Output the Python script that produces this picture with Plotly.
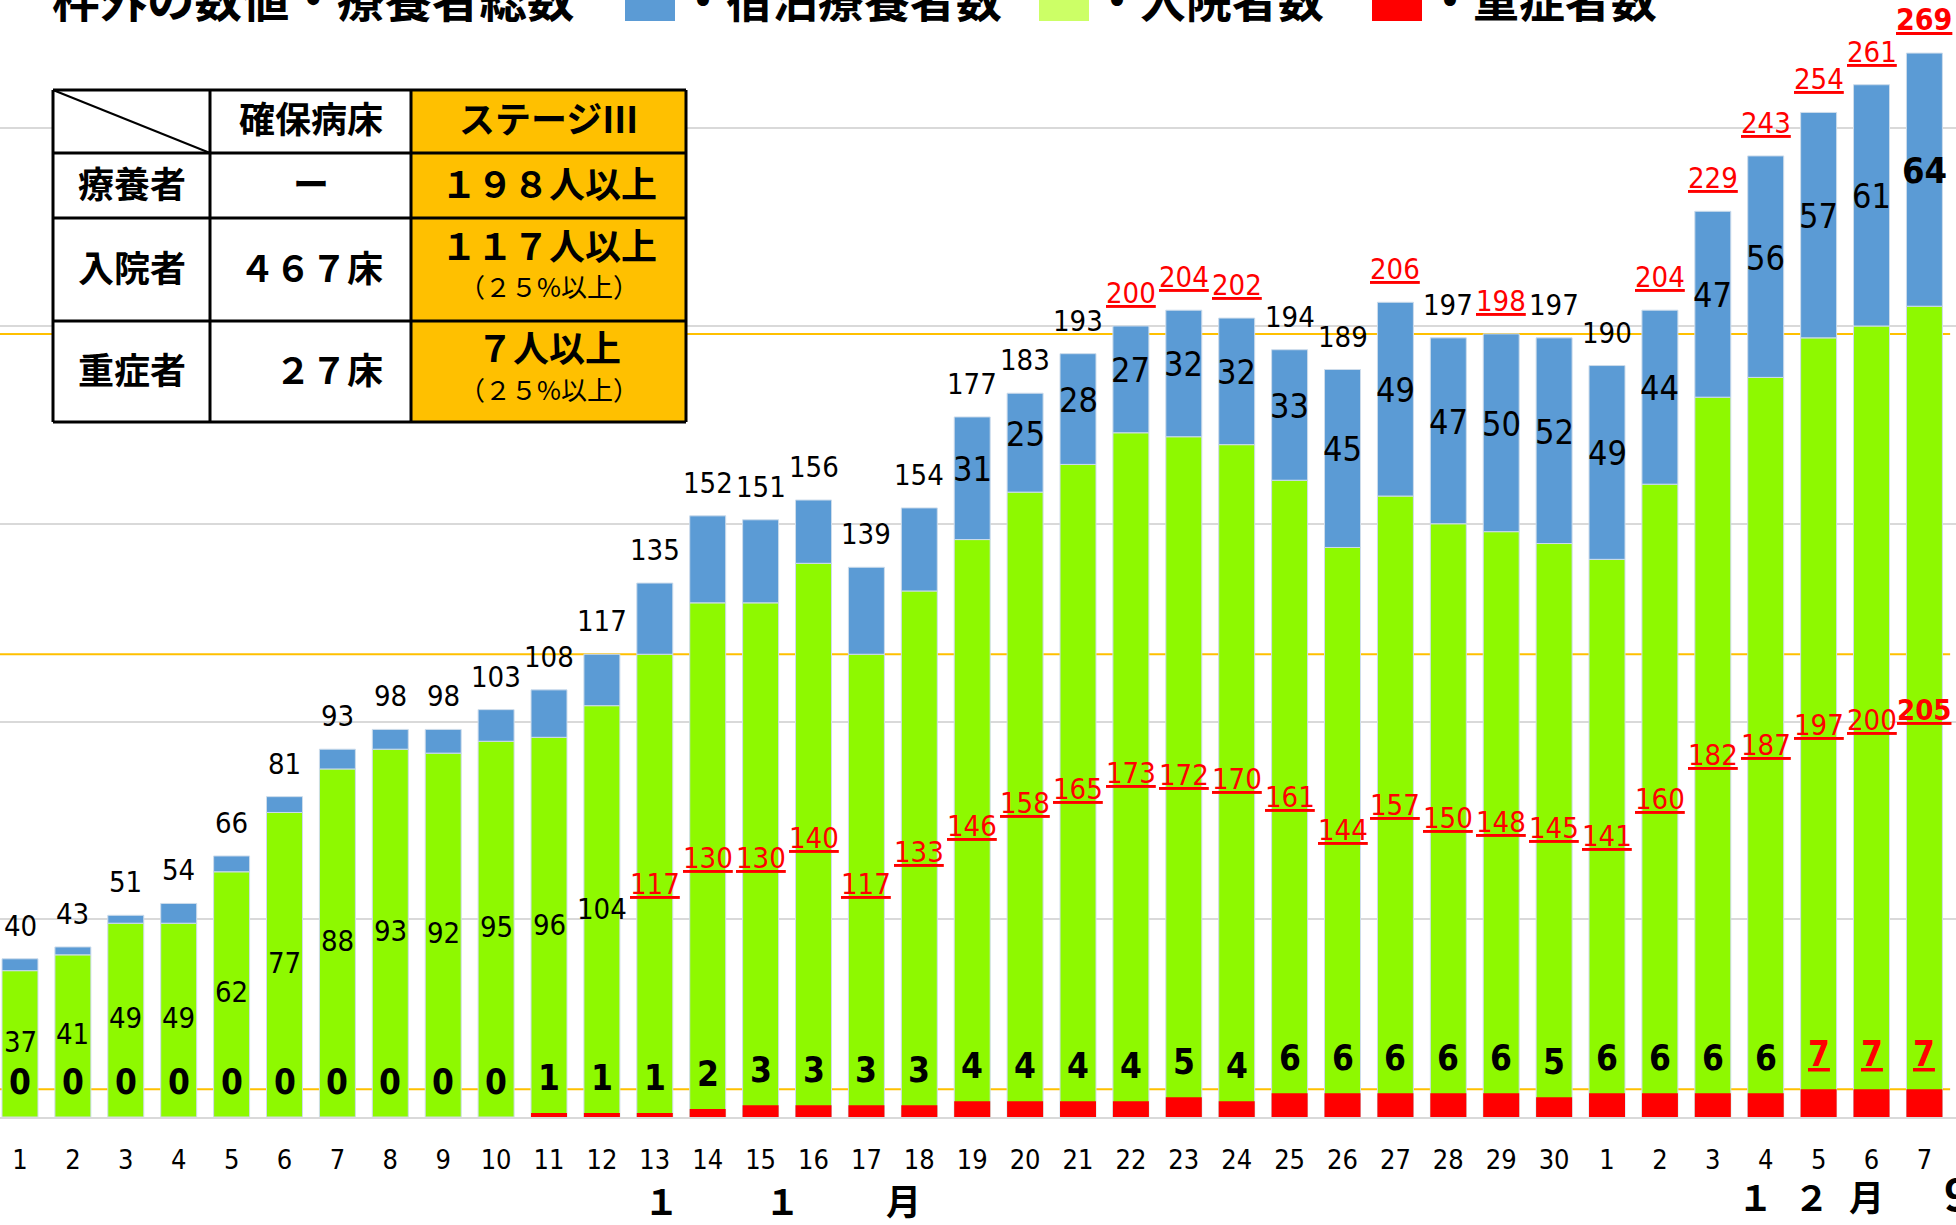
import plotly.graph_objects as go

# ---------------- data ----------------
days = [str(d) for d in range(1, 31)] + [str(d) for d in range(1, 8)]
total = [40, 43, 51, 54, 66, 81, 93, 98, 98, 103, 108, 117, 135, 152, 151, 156, 139, 154,
         177, 183, 193, 200, 204, 202, 194, 189, 206, 197, 198, 197, 190, 204, 229, 243, 254, 261, 269]
hospital = [37, 41, 49, 49, 62, 77, 88, 93, 92, 95, 96, 104, 117, 130, 130, 140, 117, 133,
            146, 158, 165, 173, 172, 170, 161, 144, 157, 150, 148, 145, 141, 160, 182, 187, 197, 200, 205]
hotel = [3, 2, 2, 5, 4, 4, 5, 5, 6, 8, 12, 13, 18, 22, 21, 16, 22, 21,
         31, 25, 28, 27, 32, 32, 33, 45, 49, 47, 50, 52, 49, 44, 47, 56, 57, 61, 64]
severe = [0, 0, 0, 0, 0, 0, 0, 0, 0, 0, 1, 1, 1, 2, 3, 3, 3, 3,
          4, 4, 4, 4, 5, 4, 6, 6, 6, 6, 6, 5, 6, 6, 6, 6, 7, 7, 7]
hotel_label_start = 18          # hotel counts labelled from Nov 19
stage3_total = 198
stage3_hospital = 117
stage3_severe = 7
thresholds = [stage3_total, stage3_hospital, stage3_severe]

legend_title = "枠外の数値・療養者総数"
legend_items = ["・宿泊療養者数", "・入院者数", "・重症者数"]
table_cols = ["確保病床", "ステージⅢ"]
table_rows = ["療養者", "入院者", "重症者"]
table_beds = ["ー", "４６７床", "２７床"]
table_stage = ["１９８人以上", "１１７人以上", "７人以上"]
table_stage_sub = ["", "（２５%以上）", "（２５%以上）"]
month_nov = ["１", "１", "月"]
month_dec = ["１", "２", "月"]
cut_char = "9"

# ---------------- style ----------------
W, H = 1956, 1225
BASE_PX = 1117  # plot bottom in px
BLUE = "#5B9BD5"
GREEN = "#8EF900"
RED = "#FF0000"
GOLD = "#FFC000"
GRID = "#D9D9D9"
NUM_FONT = "Liberation Sans Narrow, DejaVu Sans Condensed, Arial Narrow, Liberation Sans, sans-serif"
JP_FONT = "Noto Sans CJK JP, sans-serif"

n = len(days)
xs = list(range(n))
XMIN, XMAX = -0.378, 36.597
YMAX = BASE_PX / 3.955


def px(x):
    return x / W


def py(y):
    return (BASE_PX - y) / BASE_PX


fig = go.Figure()
line_style = dict(color="rgba(205,220,235,1)", width=1)
fig.add_trace(go.Bar(x=xs, y=hospital, marker=dict(color=GREEN, line=line_style), width=0.68,
                     name="入院者数", showlegend=False))
fig.add_trace(go.Bar(x=xs, y=hotel, base=hospital, marker=dict(color=BLUE, line=line_style), width=0.68,
                     name="宿泊療養者数", showlegend=False))
fig.add_trace(go.Bar(x=xs, y=severe, marker=dict(color=RED, line=dict(width=0)), width=0.68,
                     name="重症者数", showlegend=False))

ann = []
shapes = []

# threshold lines
for t in thresholds:
    shapes.append(dict(type="line", xref="paper", yref="y", x0=0, x1=0.997, y0=t, y1=t,
                       line=dict(color=GOLD, width=2), layer="below"))


def num_text(v, red, bold=False):
    s = str(v)
    if red:
        s = "<u>" + s + "</u>"
    if bold:
        s = "<b>" + s + "</b>"
    return s


last = n - 1
for i in xs:
    # total labels
    red = total[i] >= stage3_total
    ann.append(dict(x=i, y=total[i], xref="x", yref="y", yanchor="bottom", yshift=14, showarrow=False,
                    text=num_text(total[i], red, i == last),
                    font=dict(family=NUM_FONT, size=30 if i == last else 29, color=RED if red else "black")))
    # hospital labels (centre of green)
    red = hospital[i] >= stage3_hospital
    ann.append(dict(x=i, y=hospital[i] / 2, xref="x", yref="y", yanchor="middle", yshift=2, showarrow=False,
                    text=num_text(hospital[i], red, i == last),
                    font=dict(family=NUM_FONT, size=29, color=RED if red else "black")))
    # hotel labels (centre of blue)
    if i >= hotel_label_start:
        ann.append(dict(x=i, y=hospital[i] + hotel[i] / 2, xref="x", yref="y", yanchor="middle", yshift=9,
                        showarrow=False, text=num_text(hotel[i], False, i == last),
                        font=dict(family=NUM_FONT, size=36 if i == last else 34, color="black")))
    # severe labels
    red = severe[i] >= stage3_severe
    ann.append(dict(x=i, y=severe[i], xref="x", yref="y", yanchor="bottom", yshift=13, showarrow=False,
                    text="<b>" + (("<u>" + str(severe[i]) + "</u>") if red else str(severe[i])) + "</b>",
                    font=dict(family=NUM_FONT, size=35, color=RED if red else "black")))

# month labels
for ch, xi in zip(month_nov, [12.12, 14.42, 16.71]):
    ann.append(dict(x=xi, y=py(1199), xref="x", yref="paper", showarrow=False, yanchor="middle",
                    text="<b>" + ch + "</b>", font=dict(family=JP_FONT, size=35, color="black")))
for ch, xi in zip(month_dec, [32.80, 33.87, 34.91]):
    ann.append(dict(x=xi, y=py(1195), xref="x", yref="paper", showarrow=False, yanchor="middle",
                    text="<b>" + ch + "</b>", font=dict(family=JP_FONT, size=35, color="black")))
ann.append(dict(x=px(1942), y=py(1192), xref="paper", yref="paper", showarrow=False, xanchor="left",
                yanchor="middle", text="<b>" + cut_char + "</b>", font=dict(family=JP_FONT, size=44, color="black")))

# legend (cropped at top)
LEG_Y = -3
ann.append(dict(x=px(50), y=py(LEG_Y), xref="paper", yref="paper", xanchor="left", yanchor="middle",
                showarrow=False, text="<b>" + legend_title + "</b>",
                font=dict(family=JP_FONT, size=47.5, color="black")))
leg_sq = [(625, BLUE), (1039, "#CCFF66"), (1372, RED)]
for (x0, col), txt in zip(leg_sq, legend_items):
    shapes.append(dict(type="rect", xref="paper", yref="paper", x0=px(x0), x1=px(x0 + 50),
                       y0=py(21), y1=py(-29), fillcolor=col, line=dict(width=0), layer="above"))
    ann.append(dict(x=px(x0 + 53), y=py(LEG_Y), xref="paper", yref="paper", xanchor="left", yanchor="middle",
                    showarrow=False, text="<b>" + txt + "</b>",
                    font=dict(family=JP_FONT, size=46, color="black")))

# table
tx = [53, 210, 411, 686]
ty = [90, 153, 218, 321, 422]
shapes.append(dict(type="rect", xref="paper", yref="paper", x0=px(tx[0]), x1=px(tx[3]),
                   y0=py(ty[4]), y1=py(ty[0]), fillcolor="white", line=dict(width=0), layer="above"))
shapes.append(dict(type="rect", xref="paper", yref="paper", x0=px(tx[2]), x1=px(tx[3]),
                   y0=py(ty[4]), y1=py(ty[0]), fillcolor=GOLD, line=dict(width=0), layer="above"))
for x in tx:
    shapes.append(dict(type="line", xref="paper", yref="paper", x0=px(x), x1=px(x), y0=py(ty[0]), y1=py(ty[4]),
                       line=dict(color="black", width=3), layer="above"))
for y in ty:
    shapes.append(dict(type="line", xref="paper", yref="paper", x0=px(tx[0]), x1=px(tx[3]), y0=py(y), y1=py(y),
                       line=dict(color="black", width=3), layer="above"))
shapes.append(dict(type="line", xref="paper", yref="paper", x0=px(tx[0]), x1=px(tx[1]), y0=py(ty[0]), y1=py(ty[1]),
                   line=dict(color="black", width=2), layer="above"))

c1 = (tx[0] + tx[1]) / 2
c2 = (tx[1] + tx[2]) / 2
c3 = (tx[2] + tx[3]) / 2


def tann(x, y, text, size=36, bold=True, xanchor="center"):
    return dict(x=px(x), y=py(y), xref="paper", yref="paper", xanchor=xanchor, yanchor="middle",
                showarrow=False, text=("<b>" + text + "</b>") if bold else text,
                font=dict(family=JP_FONT, size=size, color="black"))


ann.append(tann(c2, 117.5, table_cols[0]))
ann.append(tann(c3, 117.5, table_cols[1]))
row_c = [181.5, 266, 368]
for k in range(3):
    ann.append(tann(c1, row_c[k], table_rows[k]))
    if k == 0:
        ann.append(tann(c2, row_c[k], table_beds[k]))
    else:
        ann.append(tann(385, row_c[k], table_beds[k], xanchor="right"))
    if table_stage_sub[k]:
        ann.append(tann(c3, row_c[k] - 22, table_stage[k]))
        ann.append(tann(c3, row_c[k] + 20, table_stage_sub[k], size=26, bold=False))
    else:
        ann.append(tann(c3, row_c[k], table_stage[k]))

fig.update_layout(
    width=W, height=H,
    margin=dict(l=0, r=0, t=0, b=H - BASE_PX, pad=0),
    paper_bgcolor="white", plot_bgcolor="white",
    barmode="overlay",
    bargap=0.32,
    xaxis=dict(range=[XMIN, XMAX], tickmode="array", tickvals=xs, ticktext=days,
               showgrid=False, zeroline=False, showline=True, linecolor=GRID, linewidth=2,
               ticks="", ticklabelstandoff=18, tickfont=dict(family=NUM_FONT, size=27, color="black"),
               fixedrange=True),
    yaxis=dict(range=[0, YMAX], showgrid=True, gridcolor=GRID, gridwidth=2, dtick=50,
               showticklabels=False, zeroline=False, showline=False, fixedrange=True),
    annotations=ann,
    shapes=shapes,
    showlegend=False,
)

fig.write_html("out.html", config={"displayModeBar": False},
               post_script="document.body.style.margin='0';document.body.style.overflow='hidden';")
